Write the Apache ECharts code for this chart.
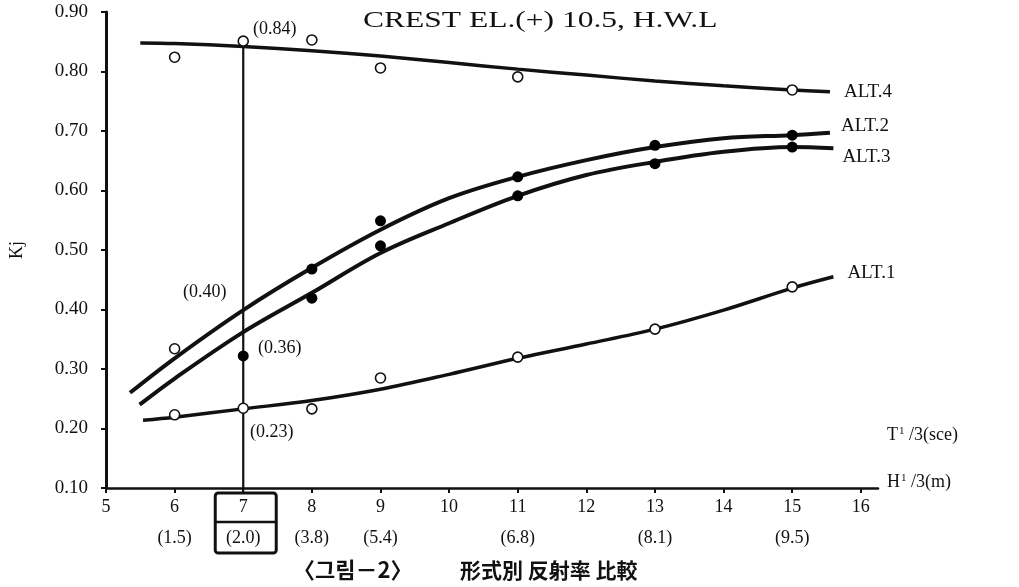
<!DOCTYPE html>
<html><head><meta charset="utf-8">
<script src="https://cdn.jsdelivr.net/npm/echarts@6/dist/echarts.min.js"></script>
<style>html,body{margin:0;padding:0;background:#fff}#c{width:1019px;height:587px}</style>
</head><body><div id="c"></div>
<script>
const SERIF = '"Liberation Serif","Times New Roman",serif';
const CJK = '"Noto Sans CJK KR","Noto Sans CJK SC",sans-serif';
const INK = '#111';

// axis ticks
const xTicks = [5,6,7,8,9,10,11,12,13,14,15,16];
const hLabels = ['', '(1.5)', '(2.0)', '(3.8)', '(5.4)', '', '(6.8)', '', '(8.1)', '', '(9.5)', ''];
const yTicks = [0.1,0.2,0.3,0.4,0.5,0.6,0.7,0.8,0.9];

// fitted curves
const alt4LineX = [5.5,6,7,8,9,10,11,12,13,14,15,15.55];
const alt4LineY = [0.848,0.847,0.842,0.835,0.826,0.815,0.804,0.794,0.784,0.776,0.769,0.766];
const alt2LineX = [5.35,6,7,8,9,10,11,12,13,14,15,15.55];
const alt2LineY = [0.260,0.318,0.399,0.470,0.534,0.587,0.623,0.651,0.673,0.688,0.693,0.697];
const alt3LineX = [5.49,6,7,8,9,10,11,12,13,14,15,15.6];
const alt3LineY = [0.240,0.284,0.362,0.428,0.495,0.545,0.591,0.626,0.648,0.665,0.673,0.671];
const alt1LineX = [5.54,6,7,8,9,10,11,12,13,14,15,15.6];
const alt1LineY = [0.214,0.219,0.233,0.247,0.266,0.291,0.318,0.342,0.367,0.399,0.436,0.455];

// measured points
const alt4PtX = [6,7,8,9,11,15];
const alt4PtY = [0.824,0.851,0.853,0.806,0.791,0.769];
const alt2OpenX = [6];
const alt2OpenY = [0.334];
const alt2PtX = [8,9,11,13,15];
const alt2PtY = [0.468,0.549,0.623,0.676,0.693];
const alt3PtX = [7,8,9,11,13,15];
const alt3PtY = [0.322,0.419,0.507,0.591,0.645,0.673];
const alt1PtX = [6,7,8,9,11,13,15];
const alt1PtY = [0.223,0.234,0.233,0.285,0.320,0.367,0.438];

// reference line at T=7
const refX = [7,7];
const refY = [0.842,0.10];

const zip = (xs, ys) => xs.map((x,i)=>[x, ys[i]]);

function lineSeries(name, xs, ys, w, off) {
  return {
    name, type:'line', data: zip(xs, ys), smooth: 0.35, showSymbol:false, symbol:'none',
    lineStyle:{color:INK, width:w}, silent:true, z:3,
    endLabel:{show:true, formatter: name, color:INK, fontFamily:SERIF, fontSize:19, offset: off, distance:6}
  };
}
function ptSeries(xs, ys, open) {
  return {
    type:'scatter', data: zip(xs, ys), symbol: 'circle',
    symbolSize: open ? 10 : 11, z:5, silent:true,
    itemStyle: open ? {color:'#ffffff', opacity:1, borderColor:INK, borderWidth:1.6} : {color:'#000', opacity:1},
    emphasis:{disabled:true}
  };
}

const chart = echarts.init(document.getElementById('c'), null, {renderer:'canvas'});
const option = {
  backgroundColor:'#fff',
  animation:false,
  grid:{left:101, right:141, top:12, bottom:99, containLabel:false},
  xAxis:{
    type:'value', min:5, max:16.25, interval:1,
    axisLine:{show:true, lineStyle:{color:INK, width:2.5}},
    axisTick:{show:true, length:5, customValues:xTicks, lineStyle:{color:INK, width:2}},
    splitLine:{show:false},
    axisLabel:{
      customValues:xTicks, margin:4,
      formatter:(v)=>{ const i = xTicks.indexOf(v); const h = i>=0 ? hLabels[i] : ''; return '{a|'+v+'}\n{b|'+(h||' ')+'}'; },
      rich:{
        a:{fontFamily:SERIF, fontSize:18, color:INK, lineHeight:31},
        b:{fontFamily:SERIF, fontSize:18, color:INK, lineHeight:31}
      }
    }
  },
  yAxis:{
    type:'value', min:0.1, max:0.9, interval:0.1,
    name:'Kj', nameLocation:'middle', nameGap:80, nameRotate:90,
    nameTextStyle:{fontFamily:SERIF, fontSize:18, color:INK},
    axisLine:{show:true, lineStyle:{color:INK, width:3}},
    axisTick:{show:true, length:5, lineStyle:{color:INK, width:2}},
    splitLine:{show:false},
    axisLabel:{margin:18, fontFamily:SERIF, fontSize:19, color:INK, formatter:(v)=>v.toFixed(2)}
  },
  series:[
    {type:'line', data: zip(refX, refY), showSymbol:false, symbol:'none', lineStyle:{color:INK, width:2.2}, z:2, silent:true},
    lineSeries('ALT.4', alt4LineX, alt4LineY, 3.5, [8,0]),
    lineSeries('ALT.2', alt2LineX, alt2LineY, 4, [5,-7]),
    lineSeries('ALT.3', alt3LineX, alt3LineY, 4, [3,9]),
    lineSeries('ALT.1', alt1LineX, alt1LineY, 3.5, [8,-4]),
    ptSeries(alt4PtX, alt4PtY, true),
    ptSeries(alt2OpenX, alt2OpenY, true),
    ptSeries(alt2PtX, alt2PtY, false),
    ptSeries(alt3PtX, alt3PtY, false),
    ptSeries(alt1PtX, alt1PtY, true)
  ]
};
chart.setOption(option);

// annotations and decorations
const p7 = chart.convertToPixel({gridIndex:0}, [7, 0.1]);
const bx = p7[0];
const by = p7[1];
chart.setOption({
  graphic:[
    {type:'text', left:363, top:9, scaleX:1.37, style:{text:'CREST EL.(+) 10.5, H.W.L', font:'23px '+SERIF, fill:INK}},
    {type:'text', x:253, y:29, style:{text:'(0.84)', font:'18px '+SERIF, fill:INK, verticalAlign:'middle'}},
    {type:'text', x:183, y:292, style:{text:'(0.40)', font:'18px '+SERIF, fill:INK, verticalAlign:'middle'}},
    {type:'text', x:258, y:348, style:{text:'(0.36)', font:'18px '+SERIF, fill:INK, verticalAlign:'middle'}},
    {type:'text', x:250, y:432, style:{text:'(0.23)', font:'18px '+SERIF, fill:INK, verticalAlign:'middle'}},
    {type:'text', x:887, y:435, style:{text:'{a|T}{s|1}{a| /3(sce)}', font:'18px '+SERIF, fill:INK, verticalAlign:'middle',
      rich:{a:{fontFamily:SERIF, fontSize:18, color:INK}, s:{fontFamily:SERIF, fontSize:11, color:INK, verticalAlign:'top', padding:[0,0,8,1]}}}},
    {type:'text', x:887, y:482, style:{text:'{a|H}{s|1}{a| /3(m)}', font:'18px '+SERIF, fill:INK, verticalAlign:'middle',
      rich:{a:{fontFamily:SERIF, fontSize:18, color:INK}, s:{fontFamily:SERIF, fontSize:11, color:INK, verticalAlign:'top', padding:[0,0,8,1]}}}},
    {type:'text', x:293, y:570, style:{text:'〈그림－2〉', font:'bold 22px '+CJK, fill:INK, verticalAlign:'middle'}},
    {type:'text', x:460, y:570, style:{text:'形式別 反射率 比較', font:'bold 21px '+CJK, fill:INK, verticalAlign:'middle'}},
    {type:'rect', shape:{x:bx-28, y:by+5, width:61, height:60, r:3}, style:{fill:'none', stroke:INK, lineWidth:3}},
    {type:'line', shape:{x1:bx-28, y1:by+34, x2:bx+33, y2:by+34}, style:{stroke:INK, lineWidth:2.5}},
    {type:'line', shape:{x1:bx, y1:by, x2:bx, y2:by+5}, style:{stroke:INK, lineWidth:2}}
  ]
});
</script></body></html>
